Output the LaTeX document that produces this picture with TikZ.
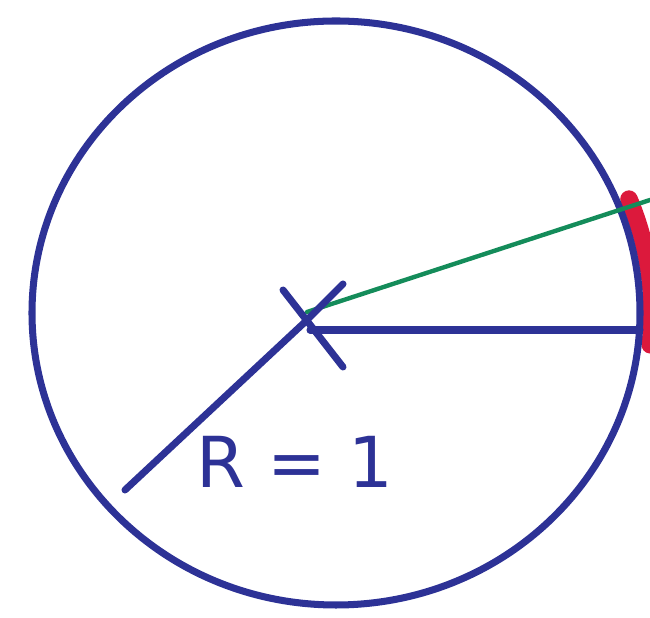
\documentclass[tikz,border=0pt]{standalone}
\usepackage{fontspec}
\setsansfont{DejaVu Sans}
\definecolor{inkblue}{RGB}{45,50,150}
\definecolor{inkgreen}{RGB}{20,140,90}
\definecolor{inkred}{RGB}{220,25,60}
\begin{document}
\begin{tikzpicture}[
  x=0.02cm,
  y=0.02cm,
  line cap=round,
  line join=round
]
  \def\Rx{304}
  \def\Ry{292}

  \useasboundingbox (0,0) rectangle (650,618);
  \clip (0,0) rectangle (650,618);

  \coordinate (O) at (336,305);
  \coordinate (M) at (305,296);
  \coordinate (A) at (640,288);
  \coordinate (B) at (650,418);
  \coordinate (C) at (125,128);

  % Красная дуга
  \draw[inkred,line width=10pt]
    (O) ++(-6:316 and 304)
    arc[
      start angle=-6,
      end angle=22,
      x radius=316,
      y radius=304
    ];

  % Окружность
  \draw[inkblue,line width=4pt]
    (O) ellipse[x radius=\Rx,y radius=\Ry];

  % Зелёный луч
  \draw[inkgreen,line width=2.5pt] (307,306) -- (B);

  % Радиусы
  \draw[inkblue,line width=4pt] (310,288) -- (A);
  \draw[inkblue,line width=4pt] (343,334) -- (M) -- (C);

  % Центр
  \draw[inkblue,line width=4pt] (283,328) -- (343,251);

  \node[inkblue,font=\sffamily\fontsize{40}{40}\selectfont]
    (lbl) at (295,156) {R = 1};
\end{tikzpicture}
\end{document}
